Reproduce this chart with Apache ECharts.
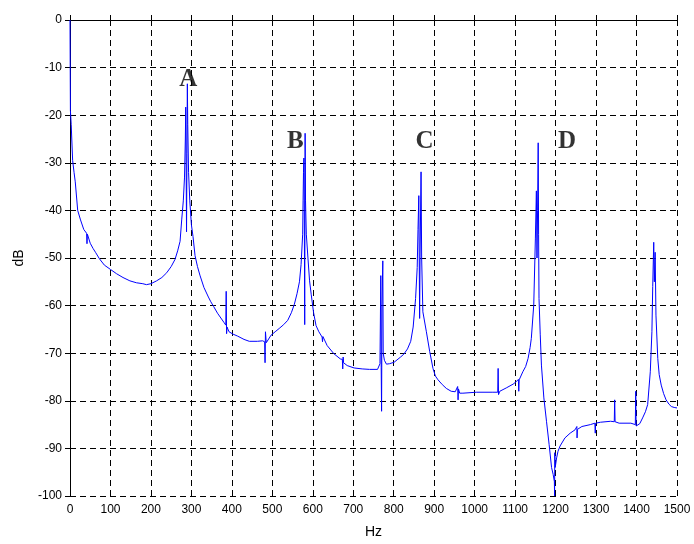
<!DOCTYPE html>
<html>
<head>
<meta charset="utf-8">
<script src="https://cdn.jsdelivr.net/npm/echarts@6/dist/echarts.min.js"></script>
<style>
  html, body { margin: 0; padding: 0; background: #fff; }
  #chart { width: 694px; height: 544px; }
</style>
</head>
<body>
<div id="chart"></div>
<script>
// 频谱 (Hz, dB)，从图上读出来的点
const hz = [0, 1, 3, 6.5, 10, 13, 19, 26, 34, 41, 42, 43, 50, 57, 63, 73, 85, 100, 115, 131, 148, 164, 180, 189, 192, 200,
  214, 227, 239, 250, 259.5, 266, 272, 276, 280, 283, 285, 286, 287, 288, 289, 290, 291, 293, 296, 300, 304, 309, 315, 321,
  331, 342, 348, 355, 364.5, 381, 385, 386, 387, 388, 393, 403, 414, 430, 443, 463, 476, 481, 482, 483, 485, 497, 507, 517,
  528, 538, 547, 554.5, 561, 567, 571, 575, 576, 577, 578, 579, 580, 581, 582, 584, 588, 592, 596, 602, 608, 615, 623, 624,
  625, 635.5, 652, 668, 673, 674, 675, 676, 685, 702, 722, 740, 760, 766, 768, 769, 770, 771, 773, 774, 777, 782, 790, 801,
  817, 825, 834, 842, 848, 854, 858, 860, 862, 863, 864, 865, 867.5, 869, 872, 880.7, 889, 897, 903, 909.5, 920, 930, 942,
  952, 958, 959, 960, 963, 971, 1004, 1045, 1057, 1058, 1059, 1062, 1078, 1095, 1102.5, 1108, 1109, 1110, 1119, 1126, 1132,
  1137, 1140, 1146, 1150, 1152.5, 1154, 1155.5, 1157, 1158, 1159, 1162, 1165, 1171, 1177.5, 1184, 1190, 1194, 1197, 1197.5,
  1198, 1199, 1202.5, 1206, 1211, 1223, 1236, 1248, 1252, 1252.5, 1253, 1254, 1265, 1286, 1297, 1298, 1299, 1311, 1336,
  1345, 1346, 1347, 1357, 1386, 1397, 1398, 1399, 1402.5, 1408, 1415, 1422, 1427.5, 1434, 1438, 1440, 1442.5, 1444, 1446,
  1448, 1452.5, 1456, 1461, 1467, 1473, 1480, 1486, 1493, 1500]
const db = [0, -19, -22, -29.5, -32, -34, -40, -42, -44, -44.8, -47, -45, -46.9, -48, -48.8, -50.2, -51.5, -52.4, -53.3, -54.1,
  -54.8, -55.2, -55.4, -55.6, -55.3, -55.4, -54.8, -54.1, -53.1, -51.8, -50.3, -48.5, -46.5, -42, -38, -33, -25, -18.3, -30,
  -44.5, -28, -13.4, -22, -32, -38, -43, -45.5, -49.5, -51.8, -53.6, -56.2, -58.2, -59.2, -60.2, -61.6, -63.6, -64.1, -57, -65.9,
  -64.5, -65.5, -66, -66.4, -67.1, -67.5, -67.5, -67.4, -67.6, -72, -65.5, -67.8, -66.2, -65.5, -64.8, -64, -63.1, -61.5,
  -59.7, -57.5, -55, -51.4, -45, -38, -32, -29, -40, -64, -23.8, -38, -45, -50, -54.8, -57.6, -61.5, -64.2, -65.5, -66.6,
  -67.6, -66.5, -68.4, -70.1, -71.2, -71.3, -73.3, -70.8, -72, -72.6, -73.1, -73.3, -73.4, -73.4, -72.2, -53.7, -73, -82.2,
  -60, -50.6, -70, -71.5, -72.3, -72.2, -71.9, -70.8, -70.2, -69.1, -67.5, -64.5, -58.5, -52, -44, -36.9, -50, -62.7, -50,
  -31.9, -50, -61.3, -65.5, -69.7, -73.2, -74.8, -75.6, -76.6, -77.4, -78, -78.1, -77, -79.8, -77.5, -78.4, -78.4, -78.2,
  -78.2, -78.2, -73.2, -78.7, -78, -77.3, -76.5, -76, -75.5, -78, -75.6, -73.9, -72.8, -71.1, -68.8, -66.9, -59.9, -46,
  -35.9, -50, -40, -25.8, -45, -58.5, -66, -72.5, -79.4, -84.3, -89.2, -94, -95.5, -97, -100, -90.9, -94, -92, -90.6,
  -89.5, -87.8, -86.8, -86.1, -86, -85.4, -87.8, -86, -85.4, -85, -84.7, -86.8, -84.7, -84.5, -84.3, -84.4, -79.8, -84.4,
  -84.7, -84.7, -85, -78, -85.3, -85.4, -84.8, -83.6, -82.3, -80.8, -73.9, -65.5, -56, -46.7, -55, -48.8, -62, -71.1,
  -74.5, -76.7, -78.5, -79.8, -80.7, -81.2, -81.4, -81.5]

// 峰的标注
const peakNames = ['A', 'B', 'C', 'D']
const peakHz = [292, 557, 876, 1228]
const peakDb = [-12.6, -25.6, -25.6, -25.6]

const chart = echarts.init(document.getElementById('chart'))

const labelFont = { color: '#000', fontSize: 12, fontFamily: 'Arial, "Liberation Sans", sans-serif' }
const boxLine = { show: true, lineStyle: { color: '#000', width: 1 } }
const inTick = { show: true, inside: true, length: 5, lineStyle: { color: '#000' } }
const dashGrid = { show: true, lineStyle: { color: '#000', type: [6, 4], width: 1 } }

chart.setOption({
  animation: false,
  grid: { left: 70, right: 17, top: 20, bottom: 47 },
  xAxis: [
    {
      type: 'value', min: 0, max: 1500, interval: 100,
      name: 'Hz', nameLocation: 'middle', nameGap: 29,
      nameTextStyle: { color: '#000', fontSize: 14, fontFamily: 'Arial, "Liberation Sans", sans-serif' },
      axisLine: boxLine, axisTick: inTick,
      axisLabel: Object.assign({ margin: 8, formatter: v => String(v) }, labelFont),
      splitLine: dashGrid
    },
    {
      type: 'value', position: 'top', min: 0, max: 1500, interval: 100,
      axisLine: boxLine, axisTick: inTick, axisLabel: { show: false }, splitLine: { show: false }
    }
  ],
  yAxis: [
    {
      type: 'value', min: -100, max: 0, interval: 10,
      name: 'dB', nameLocation: 'middle', nameGap: 44, nameRotate: 90,
      nameTextStyle: { color: '#000', fontSize: 14, fontFamily: 'Arial, "Liberation Sans", sans-serif' },
      axisLine: boxLine, axisTick: inTick,
      axisLabel: Object.assign({ margin: 8, formatter: v => String(v) }, labelFont),
      splitLine: dashGrid
    },
    {
      type: 'value', position: 'right', min: -100, max: 0, interval: 10,
      axisLine: boxLine, axisTick: inTick, axisLabel: { show: false }, splitLine: { show: false }
    }
  ],
  series: [
    {
      type: 'line',
      data: hz.map((v, i) => [v, db[i]]),
      showSymbol: false,
      lineStyle: { color: '#0000ff', width: 1 },
      z: 3
    },
    {
      type: 'scatter',
      data: peakHz.map((v, i) => ({ value: [v, peakDb[i]], name: peakNames[i] })),
      symbolSize: 0,
      label: {
        show: true, position: 'inside', formatter: p => p.name,
        color: '#000', fontSize: 25, fontWeight: 'bold',
        fontFamily: '"Times New Roman", "Liberation Serif", serif'
      },
      z: 4
    }
  ]
})
</script>
</body>
</html>
